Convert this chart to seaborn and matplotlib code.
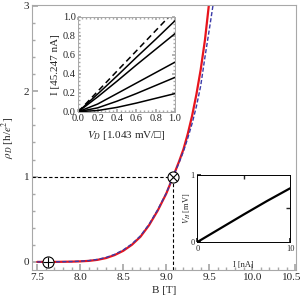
import pandas as pd
import seaborn as sns
import matplotlib.pyplot as plt
import matplotlib.transforms as mtransforms
from matplotlib.ticker import AutoMinorLocator

# main panel: rho_D vs B
b_red = [7.50, 7.70, 7.90, 8.00, 8.10, 8.20, 8.30, 8.40, 8.50, 8.60, 8.70, 8.80,
         8.90, 9.00, 9.08, 9.15, 9.20, 9.25, 9.30, 9.35, 9.40, 9.45, 9.50, 9.55]
rho_red = [0.000, 0.000, 0.003, 0.006, 0.012, 0.024, 0.045, 0.080, 0.130, 0.200, 0.295, 0.430,
           0.600, 0.800, 1.000, 1.180, 1.320, 1.500, 1.710, 1.960, 2.250, 2.600, 3.050, 3.500]
b_blue = [7.50, 7.70, 7.90, 8.00, 8.10, 8.20, 8.30, 8.40, 8.50, 8.60, 8.70, 8.80,
          8.90, 9.00, 9.08, 9.15, 9.20, 9.25, 9.30, 9.35, 9.40, 9.45, 9.50, 9.55, 9.60]
rho_blue = [0.000, 0.001, 0.004, 0.008, 0.015, 0.029, 0.052, 0.088, 0.140, 0.210, 0.305, 0.440,
            0.610, 0.805, 1.000, 1.165, 1.295, 1.450, 1.620, 1.820, 2.060, 2.400, 2.720, 3.050, 3.400]
b_cross = 9.08
b_plus = 7.63

# inset 1: I vs V_D
v_d = [0.0, 0.2, 0.4, 0.6, 0.8, 1.0]
i_dashed = [0.0, 0.213, 0.426, 0.638, 0.851, 1.064]
i_curves = [
    [0.0, 0.185, 0.375, 0.570, 0.760, 0.955],
    [0.0, 0.155, 0.320, 0.490, 0.655, 0.820],
    [0.0, 0.080, 0.190, 0.300, 0.410, 0.520],
    [0.0, 0.040, 0.110, 0.190, 0.275, 0.360],
    [0.0, 0.012, 0.045, 0.090, 0.140, 0.190],
]

# inset 2: V_H vs I
i_na = [0, 2.5, 5, 7.5, 10]
v_h = [0.0, 0.205, 0.41, 0.61, 0.80]

sns.set_theme(style="ticks")
plt.rcParams["font.family"] = ["Liberation Serif", "DejaVu Sans"]
plt.rcParams["mathtext.fontset"] = "stix"

GRAY = "#a8a8a8"
fig = plt.figure(figsize=(3.0, 3.01), dpi=100)
ax = fig.add_axes([0.107, 0.103, 0.88, 0.88])

sns.lineplot(x=b_red, y=rho_red, ax=ax, color="#e8141c", linewidth=1.6)
sns.lineplot(x=b_blue, y=rho_blue, ax=ax, color="#3a3aa8", linewidth=1.0, linestyle=(0, (3, 1.5)))

ax.plot([7.44, b_cross], [1, 1], color="black", linestyle=(0, (3, 2)), linewidth=0.8)
ax.plot([b_cross, b_cross], [-0.1, 1], color="black", linestyle=(0, (3, 2)), linewidth=0.8)
for bx, mk in [(b_cross, "x"), (b_plus, "+")]:
    ax.plot([bx], [1 if mk == "x" else 0], marker="o", ms=8, mfc="white", mec="black", mew=0.8, zorder=5)
    ax.plot([bx], [1 if mk == "x" else 0], marker=mk, ms=5.5 if mk == "x" else 7.5, color="black", mew=0.8, zorder=6)

ax.set_xlim(7.44, 10.51)
ax.set_ylim(-0.095, 3.01)
ax.set_xticks([7.5, 8.0, 8.5, 9.0, 9.5, 10.0, 10.5])
ax.set_yticks([0, 1, 2, 3])
ax.xaxis.set_minor_locator(AutoMinorLocator(5))
ax.yaxis.set_minor_locator(AutoMinorLocator(5))
for s in ax.spines.values():
    s.set_color(GRAY)
    s.set_linewidth(0.8)
ax.tick_params(which="both", direction="in", color=GRAY, labelsize=8, pad=2)
ax.tick_params(which="major", length=4)
ax.tick_params(which="minor", length=2)
ax.set_xlabel("B [T]", fontsize=8, labelpad=3)
ax.set_ylabel(r"$\rho_D$ [h/$e^2$]", fontsize=8, labelpad=5)
# keep the last tick label inside the figure
last = ax.get_xticklabels()[-1]
last.set_transform(last.get_transform() + mtransforms.ScaledTranslation(-4 / 100, 0, fig.dpi_scale_trans))

# inset 1
ax1 = fig.add_axes([0.261, 0.629, 0.322, 0.316])
sns.lineplot(x=v_d, y=i_dashed, ax=ax1, color="black", linewidth=1.1, linestyle=(0, (4, 2.5)))
for curve in i_curves:
    sns.lineplot(x=v_d, y=curve, ax=ax1, color="black", linewidth=1.1)
ax1.set_xlim(0, 1)
ax1.set_ylim(0, 1)
ax1.set_xticks([0, 0.2, 0.4, 0.6, 0.8, 1.0])
ax1.set_yticks([0, 0.2, 0.4, 0.6, 0.8, 1.0])
ax1.xaxis.set_minor_locator(AutoMinorLocator(5))
ax1.yaxis.set_minor_locator(AutoMinorLocator(5))
for s in ax1.spines.values():
    s.set_color(GRAY)
    s.set_linewidth(0.7)
ax1.tick_params(which="both", direction="in", color=GRAY, labelsize=7.5, pad=2,
                top=True, right=True)
ax1.tick_params(which="major", length=2.5)
ax1.tick_params(which="minor", length=1.5)
ax1.set_xlabel(r"$V_D$ [1.043 mV/□]", fontsize=8, labelpad=4)
ax1.set_ylabel("I [45.247 nA]", fontsize=8, labelpad=2)

# inset 2
ax2 = fig.add_axes([0.658, 0.196, 0.309, 0.223])
sns.lineplot(x=i_na, y=v_h, ax=ax2, color="black", linewidth=1.6)
ax2.set_xlim(0, 10)
ax2.set_ylim(0, 1)
ax2.set_xticks([0, 10])
ax2.set_yticks([0, 1])
ax2.set_xticks([5], minor=True)
ax2.set_yticks([0.5], minor=True)
for s in ax2.spines.values():
    s.set_color("black")
    s.set_linewidth(0.7)
ax2.tick_params(which="both", direction="in", labelsize=6, pad=2, length=3)
ax2.tick_params(which="minor", bottom=False, left=False, top=True, right=True)
ax2.set_xlabel("I [nA]", fontsize=6, labelpad=6)
ax2.set_ylabel(r"$V_H$ [mV]", fontsize=6, labelpad=-2)

fig.savefig("out.png", dpi=100)
